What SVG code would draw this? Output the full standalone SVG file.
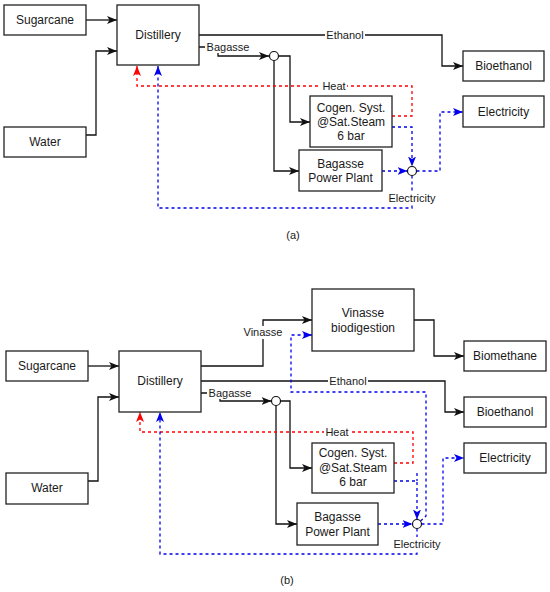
<svg xmlns="http://www.w3.org/2000/svg" width="550" height="592" viewBox="0 0 550 592">
<defs>
<style>
.box{fill:#fff;stroke:#222;stroke-width:1.3}
.t{font-family:"Liberation Sans",Arial,sans-serif;font-size:12px;fill:#1a1a1a;text-anchor:middle}
.lb{font-family:"Liberation Sans",Arial,sans-serif;font-size:11px;fill:#1a1a1a;text-anchor:middle}
.bg{fill:#fff;stroke:none}
.k{fill:none;stroke:#111;stroke-width:1.3}
.r{fill:none;stroke:#ff0000;stroke-width:1.3;stroke-dasharray:3 3}
.b{fill:none;stroke:#0000ee;stroke-width:1.3;stroke-dasharray:3 3}
.j{fill:#fff;stroke:#111;stroke-width:1.2}
</style>
<marker id="ak" viewBox="0 0 10 8" refX="10" refY="4" markerWidth="10" markerHeight="8" markerUnits="userSpaceOnUse" orient="auto"><path d="M0,0 L10,4 L0,8 L2.5,4 Z" fill="#111"/></marker>
<marker id="ar" viewBox="0 0 10 8" refX="10" refY="4" markerWidth="10" markerHeight="8" markerUnits="userSpaceOnUse" orient="auto"><path d="M0,0 L10,4 L0,8 L2.5,4 Z" fill="#ff0000"/></marker>
<marker id="ab" viewBox="0 0 10 8" refX="10" refY="4" markerWidth="10" markerHeight="8" markerUnits="userSpaceOnUse" orient="auto"><path d="M0,0 L10,4 L0,8 L2.5,4 Z" fill="#0000ee"/></marker>
</defs>
<rect width="550" height="592" fill="#fff"/>

<g id="connectors">
<!-- (a) -->
<path class="k" d="M86,20 H117" marker-end="url(#ak)"/>
<path class="k" d="M86,135 H96 V51 H117" marker-end="url(#ak)"/>
<path class="k" d="M199,35 H442 V66 H463" marker-end="url(#ak)"/>
<path class="k" d="M199,47 H218 V56 H269" marker-end="url(#ak)"/>
<path class="k" d="M278.5,56 H290 V122 H310" marker-end="url(#ak)"/>
<path class="k" d="M274,60.5 V171 H299" marker-end="url(#ak)"/>
<path class="r" d="M392,116 H412 V86 H137 V66" marker-end="url(#ar)"/>
<path class="b" d="M392,127 H412 V166.5" marker-end="url(#ab)"/>
<path class="b" d="M382,171 H407.5" marker-end="url(#ab)"/>
<path class="b" d="M416.5,171 H440 V112 H463" marker-end="url(#ab)"/>
<path class="b" d="M412,175.5 V208 H158 V66" marker-end="url(#ab)"/>
<!-- (b) -->
<path class="k" d="M88,366 H119" marker-end="url(#ak)"/>
<path class="k" d="M88,481 H98 V397 H119" marker-end="url(#ak)"/>
<path class="k" d="M201,366 H263 V320 H312" marker-end="url(#ak)"/>
<path class="k" d="M414,320 H434 V356 H464" marker-end="url(#ak)"/>
<path class="k" d="M201,381 H445 V412 H464" marker-end="url(#ak)"/>
<path class="k" d="M201,393 H220 V401 H271.5" marker-end="url(#ak)"/>
<path class="k" d="M280.5,401 H290 V468 H312" marker-end="url(#ak)"/>
<path class="k" d="M276,405.5 V524 H297" marker-end="url(#ak)"/>
<path class="r" d="M394,463 H413 V432 H140 V412" marker-end="url(#ar)"/>
<path class="b" d="M394,481 H417 V519.5" marker-end="url(#ab)"/>
<path class="b" d="M417,473 V481"/>
<path class="b" d="M378,524 H412.5" marker-end="url(#ab)"/>
<path class="b" d="M421.5,524 H443 V458 H464" marker-end="url(#ab)"/>
<path class="b" d="M417,528.5 V554 H160 V412" marker-end="url(#ab)"/>
<path class="b" d="M420.5,521 L426,516 V392 H291 V335 H312" marker-end="url(#ab)"/>

<!-- edge labels (a) -->
<rect class="bg" x="205" y="40" width="46" height="13"/>
<text class="lb" x="228" y="51">Bagasse</text>
<rect class="bg" x="325" y="29" width="40" height="12"/>
<text class="lb" x="345" y="39">Ethanol</text>
<rect class="bg" x="321" y="80" width="26" height="12"/>
<text class="lb" x="334" y="90">Heat</text>
<rect class="bg" x="388" y="191" width="48" height="13"/>
<text class="lb" x="412" y="202">Electricity</text>
<!-- edge labels (b) -->
<rect class="bg" x="241" y="326" width="44" height="13"/>
<text class="lb" x="263" y="336">Vinasse</text>
<rect class="bg" x="328" y="375" width="40" height="12"/>
<text class="lb" x="348" y="385">Ethanol</text>
<rect class="bg" x="207" y="386" width="46" height="13"/>
<text class="lb" x="230" y="397">Bagasse</text>
<rect class="bg" x="324" y="426" width="26" height="12"/>
<text class="lb" x="337" y="436">Heat</text>
<rect class="bg" x="393" y="537" width="48" height="13"/>
<text class="lb" x="417" y="548">Electricity</text>
</g>

<!-- junctions -->
<g id="junction-a1"><circle class="j" cx="274" cy="56" r="4.5"/></g>
<g id="junction-a2"><circle class="j" cx="412" cy="171" r="4.5"/></g>
<g id="junction-b1"><circle class="j" cx="276" cy="401" r="4.5"/></g>
<g id="junction-b2"><circle class="j" cx="417" cy="524" r="4.5"/></g>

<!-- nodes (a) -->
<g id="a-sugarcane"><rect class="box" x="4" y="5" width="82" height="30"/><text class="t" x="45" y="24">Sugarcane</text></g>
<g id="a-water"><rect class="box" x="4" y="127" width="82" height="30"/><text class="t" x="45" y="146">Water</text></g>
<g id="a-distillery"><rect class="box" x="117" y="5" width="82" height="60"/><text class="t" x="158" y="39">Distillery</text></g>
<g id="a-bioethanol"><rect class="box" x="463" y="51" width="81" height="30"/><text class="t" x="503.5" y="70">Bioethanol</text></g>
<g id="a-electricity"><rect class="box" x="463" y="96" width="81" height="31"/><text class="t" x="503.5" y="116">Electricity</text></g>
<g id="a-cogen"><rect class="box" x="310" y="96" width="82" height="51"/><text class="t" x="351" y="112">Cogen. Syst.</text><text class="t" x="351" y="126">@Sat.Steam</text><text class="t" x="351" y="140">6 bar</text></g>
<g id="a-bpp"><rect class="box" x="299" y="150" width="83" height="41"/><text class="t" x="340.5" y="168">Bagasse</text><text class="t" x="340.5" y="182">Power Plant</text></g>
<text class="lb" x="293" y="239">(a)</text>

<!-- nodes (b) -->
<g id="b-sugarcane"><rect class="box" x="6" y="351" width="82" height="30"/><text class="t" x="47" y="370">Sugarcane</text></g>
<g id="b-water"><rect class="box" x="6" y="473" width="82" height="31"/><text class="t" x="47" y="492">Water</text></g>
<g id="b-distillery"><rect class="box" x="119" y="351" width="82" height="61"/><text class="t" x="160" y="385">Distillery</text></g>
<g id="b-vinasse"><rect class="box" x="312" y="289" width="102" height="62"/><text class="t" x="363" y="317">Vinasse</text><text class="t" x="363" y="332">biodigestion</text></g>
<g id="b-biomethane"><rect class="box" x="464" y="341" width="82" height="30"/><text class="t" x="505" y="360">Biomethane</text></g>
<g id="b-bioethanol"><rect class="box" x="464" y="397" width="82" height="30"/><text class="t" x="505" y="416">Bioethanol</text></g>
<g id="b-electricity"><rect class="box" x="464" y="443" width="82" height="30"/><text class="t" x="505" y="462">Electricity</text></g>
<g id="b-cogen"><rect class="box" x="312" y="443" width="82" height="50"/><text class="t" x="353" y="457">Cogen. Syst.</text><text class="t" x="353" y="472">@Sat.Steam</text><text class="t" x="353" y="486">6 bar</text></g>
<g id="b-bpp"><rect class="box" x="297" y="503" width="81" height="42"/><text class="t" x="337.5" y="521">Bagasse</text><text class="t" x="337.5" y="536">Power Plant</text></g>
<text class="lb" x="287" y="584">(b)</text>
</svg>
